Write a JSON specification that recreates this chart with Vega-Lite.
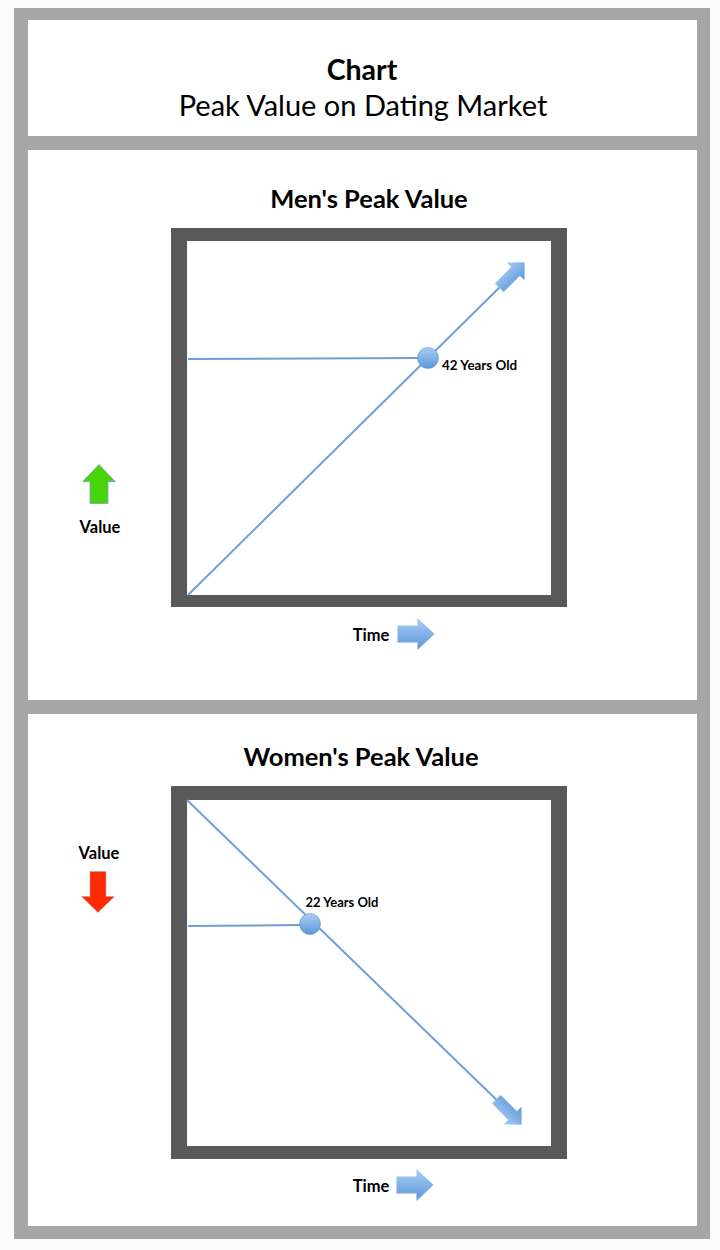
{
  "$schema": "https://vega.github.io/schema/vega-lite/v6.json",
  "width": 720,
  "height": 1250,
  "padding": 0,
  "autosize": {"type": "none"},
  "background": "#fbfbfb",
  "config": {"view": {"stroke": null}, "text": {"font": "Lato", "color": "#000000"}},
  "datasets": {
    "parts": [
      {"part": "frame", "x": 14, "x2": 710, "y": 8, "y2": 1239},
      {"part": "panel", "x": 28, "x2": 697, "y": 20, "y2": 136},
      {"part": "panel", "x": 28, "x2": 697, "y": 150, "y2": 700},
      {"part": "panel", "x": 28, "x2": 697, "y": 714, "y2": 1226},
      {"part": "plot border", "x": 171, "x2": 567, "y": 228, "y2": 607},
      {"part": "plot border", "x": 171, "x2": 567, "y": 786, "y2": 1159},
      {"part": "plot area", "x": 187, "x2": 551, "y": 241, "y2": 595},
      {"part": "plot area", "x": 187, "x2": 551, "y": 800, "y2": 1146}
    ],
    "lines": [
      {"x": 188, "y": 595, "x2": 506, "y2": 281},
      {"x": 188, "y": 359, "x2": 420, "y2": 358},
      {"x": 187, "y": 800, "x2": 505, "y2": 1108},
      {"x": 188, "y": 926, "x2": 302, "y2": 925}
    ],
    "head_men": [{"x": 512, "y": 275}],
    "head_women": [{"x": 509, "y": 1112}],
    "peaks": [{"x": 428, "y": 358}, {"x": 310, "y": 924}],
    "time_arrows": [{"x": 416, "y": 634}, {"x": 415, "y": 1185}],
    "value_up": [{"x": 99, "y": 484}],
    "value_down": [{"x": 98, "y": 892}],
    "title": [{"x": 362, "y": 71, "text": "Chart"}],
    "subtitle": [{"x": 363, "y": 107, "text": "Peak Value on Dating Market"}],
    "panel_titles": [
      {"x": 369, "y": 200, "text": "Men's Peak Value"},
      {"x": 361, "y": 758, "text": "Women's Peak Value"}
    ],
    "axis_labels": [
      {"x": 100, "y": 527.5, "text": "Value"},
      {"x": 99, "y": 853.5, "text": "Value"},
      {"x": 371, "y": 635.5, "text": "Time"},
      {"x": 371, "y": 1186.5, "text": "Time"}
    ],
    "label_men": [{"x": 442, "y": 366, "text": "42 Years Old"}],
    "label_women": [{"x": 342, "y": 903, "text": "22 Years Old"}]
  },
  "encoding": {
    "x": {"field": "x", "type": "quantitative", "scale": {"domain": [0, 720], "nice": false, "zero": false}, "axis": null},
    "y": {"field": "y", "type": "quantitative", "scale": {"domain": [0, 1250], "nice": false, "zero": false, "reverse": true}, "axis": null}
  },
  "layer": [
    {
      "data": {"name": "parts"},
      "mark": {"type": "rect"},
      "encoding": {
        "x2": {"field": "x2"},
        "y2": {"field": "y2"},
        "color": {"field": "part", "type": "nominal", "legend": null,
          "scale": {"domain": ["frame", "panel", "plot border", "plot area"], "range": ["#a6a6a6", "#ffffff", "#595959", "#ffffff"]}}
      }
    },
    {
      "data": {"name": "lines"},
      "mark": {"type": "rule", "color": "#6f9fd6", "strokeWidth": 2},
      "encoding": {"x2": {"field": "x2"}, "y2": {"field": "y2"}}
    },
    {
      "data": {"name": "head_men"},
      "mark": {"type": "point", "filled": true, "opacity": 1, "size": 1296, "angle": 315,
        "shape": "M-1,-0.34L0.28,-0.34L0.28,-0.7L1,0L0.28,0.7L0.28,0.34L-1,0.34Z",
        "color": {"gradient": "linear", "x1": 0, "y1": 0, "x2": 0, "y2": 1, "stops": [{"offset": 0, "color": "#a9cdf5"}, {"offset": 1, "color": "#5b97d9"}]}}
    },
    {
      "data": {"name": "head_women"},
      "mark": {"type": "point", "filled": true, "opacity": 1, "size": 1296, "angle": 45,
        "shape": "M-1,-0.34L0.28,-0.34L0.28,-0.7L1,0L0.28,0.7L0.28,0.34L-1,0.34Z",
        "color": {"gradient": "linear", "x1": 0, "y1": 0, "x2": 0, "y2": 1, "stops": [{"offset": 0, "color": "#5b97d9"}, {"offset": 1, "color": "#a9cdf5"}]}}
    },
    {
      "data": {"name": "peaks"},
      "mark": {"type": "point", "shape": "circle", "filled": true, "opacity": 1, "size": 440,
        "stroke": "#5b8fcf", "strokeWidth": 0.6,
        "color": {"gradient": "linear", "x1": 0, "y1": 0, "x2": 0, "y2": 1, "stops": [{"offset": 0, "color": "#a9cdf5"}, {"offset": 1, "color": "#5b97d9"}]}}
    },
    {
      "data": {"name": "time_arrows"},
      "mark": {"type": "point", "filled": true, "opacity": 1, "size": 1369,
        "shape": "M-1,-0.46L0.08,-0.46L0.08,-0.86L1,0L0.08,0.86L0.08,0.46L-1,0.46Z",
        "color": {"gradient": "linear", "x1": 0, "y1": 0, "x2": 0, "y2": 1, "stops": [{"offset": 0, "color": "#a9cdf5"}, {"offset": 1, "color": "#5b97d9"}]}}
    },
    {
      "data": {"name": "value_up"},
      "mark": {"type": "point", "filled": true, "opacity": 1, "size": 1521, "angle": 270,
        "shape": "M-1,-0.46L0.12,-0.46L0.12,-0.84L1,0L0.12,0.84L0.12,0.46L-1,0.46Z",
        "color": "#48d40a", "stroke": "#7aa0c8", "strokeWidth": 0.8}
    },
    {
      "data": {"name": "value_down"},
      "mark": {"type": "point", "filled": true, "opacity": 1, "size": 1681, "angle": 90,
        "shape": "M-1,-0.39L0.22,-0.39L0.22,-0.8L1,0L0.22,0.8L0.22,0.39L-1,0.39Z",
        "color": "#fe2a00", "stroke": "#c0a0a0", "strokeWidth": 0.6}
    },
    {
      "data": {"name": "title"},
      "mark": {"type": "text", "fontSize": 28.5, "fontWeight": "bold", "align": "center", "baseline": "middle"},
      "encoding": {"text": {"field": "text"}}
    },
    {
      "data": {"name": "subtitle"},
      "mark": {"type": "text", "fontSize": 29, "fontWeight": "normal", "align": "center", "baseline": "middle"},
      "encoding": {"text": {"field": "text"}}
    },
    {
      "data": {"name": "panel_titles"},
      "mark": {"type": "text", "fontSize": 25.5, "fontWeight": "bold", "align": "center", "baseline": "middle"},
      "encoding": {"text": {"field": "text"}}
    },
    {
      "data": {"name": "axis_labels"},
      "mark": {"type": "text", "fontSize": 16.5, "fontWeight": "bold", "align": "center", "baseline": "middle"},
      "encoding": {"text": {"field": "text"}}
    },
    {
      "data": {"name": "label_men"},
      "mark": {"type": "text", "fontSize": 13.4, "fontWeight": "bold", "align": "left", "baseline": "middle"},
      "encoding": {"text": {"field": "text"}}
    },
    {
      "data": {"name": "label_women"},
      "mark": {"type": "text", "fontSize": 13, "fontWeight": "bold", "align": "center", "baseline": "middle"},
      "encoding": {"text": {"field": "text"}}
    }
  ]
}
